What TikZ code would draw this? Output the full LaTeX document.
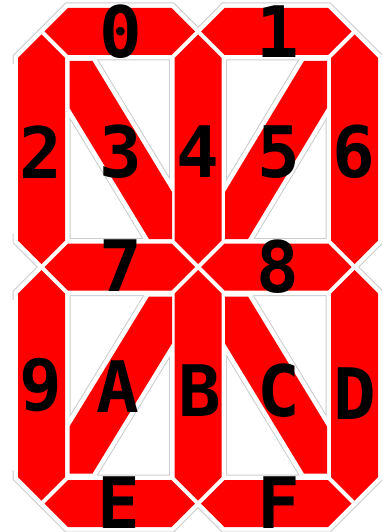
\documentclass[tikz,border=0pt]{standalone}
\usepackage{fontspec}
\newfontfamily\labfont{DejaVu Sans Mono}
\begin{document}
\begin{tikzpicture}[x=1pt,y=-1pt,
  lab/.style={font=\labfont\bfseries\fontsize{71}{71}\selectfont, inner sep=0pt, text=black, anchor=center}]
\def\sT{3}\def\sH{23.5}\def\dW{23}\def\dV{47}
\newcommand\hseg[4]{\path[#1] ({#3+\sT},{#2}) -- ({#3+\sT+\sH},{#2-\sH}) -- ({#4-\sT-\sH},{#2-\sH}) -- ({#4-\sT},{#2}) -- ({#4-\sT-\sH},{#2+\sH}) -- ({#3+\sT+\sH},{#2+\sH}) -- cycle;}
\newcommand\vseg[4]{\path[#1] ({#2},{#3+\sT}) -- ({#2+\sH},{#3+\sT+\sH}) -- ({#2+\sH},{#4-\sT-\sH}) -- ({#2},{#4-\sT}) -- ({#2-\sH},{#4-\sT-\sH}) -- ({#2-\sH},{#3+\sT+\sH}) -- cycle;}
\newcommand\dseg[5]{\path[#1] (#2,#3) -- ({#2+\dW},#3) -- (#4,{#5-\dV}) -- (#4,#5) -- ({#4-\dW},#5) -- (#2,{#3+\dV}) -- cycle;}
\newcommand\aseg[5]{\path[#1] (#4,#3) -- (#4,{#3+\dV}) -- ({#2+\dW},#5) -- (#2,#5) -- (#2,{#5-\dV}) -- ({#4-\dW},#3) -- cycle;}
\newcommand\allsegs[1]{%
  \hseg{#1}{31.5}{41.5}{198}%
  \hseg{#1}{31.5}{198}{354.5}%
  \hseg{#1}{267}{41.5}{198}%
  \hseg{#1}{267}{198}{354.5}%
  \hseg{#1}{503.5}{41.5}{198}%
  \hseg{#1}{503.5}{198}{354.5}%
  \vseg{#1}{41.5}{31.5}{267}%
  \vseg{#1}{198}{31.5}{267}%
  \vseg{#1}{354.5}{31.5}{267}%
  \vseg{#1}{41.5}{267}{503.5}%
  \vseg{#1}{198}{267}{503.5}%
  \vseg{#1}{354.5}{267}{503.5}%
  \dseg{#1}{69.5}{61}{172}{239}%
  \aseg{#1}{225}{61}{327}{239}%
  \aseg{#1}{69.5}{296.5}{172}{473.5}%
  \dseg{#1}{225}{296.5}{327}{473.5}%
}
\fill[white] (0,0) rectangle (381,532);
\useasboundingbox (0,0) rectangle (381,532);
\allsegs{draw=gray!40, line width=11pt, line join=miter}
\fill[white] (10,64) rectangle (15,234);
\fill[white] (10,300) rectangle (15,470);
\allsegs{draw=white, fill=white, line width=9pt, line join=miter}
\allsegs{fill=red}
\node[lab] (l0) at (121,31.5) {0};
\node[lab] (l1) at (278,31.5) {1};
\node[lab] (l2) at (41,152) {2};
\node[lab] (l3) at (121,152) {3};
\node[lab] (l4) at (198,152) {4};
\node[lab] (l5) at (279,152) {5};
\node[lab] (l6) at (354,152) {6};
\node[lab] (l7) at (121,266) {7};
\node[lab] (l8) at (278,267) {8};
\node[lab] (l9) at (41,385) {9};
\node[lab] (lA) at (118,387) {A};
\node[lab] (lB) at (200,391) {B};
\node[lab] (lC) at (279,391) {C};
\node[lab] (lD) at (355,394) {D};
\node[lab] (lE) at (119,502.5) {E};
\node[lab] (lF) at (279,502.5) {F};
\end{tikzpicture}
\end{document}
